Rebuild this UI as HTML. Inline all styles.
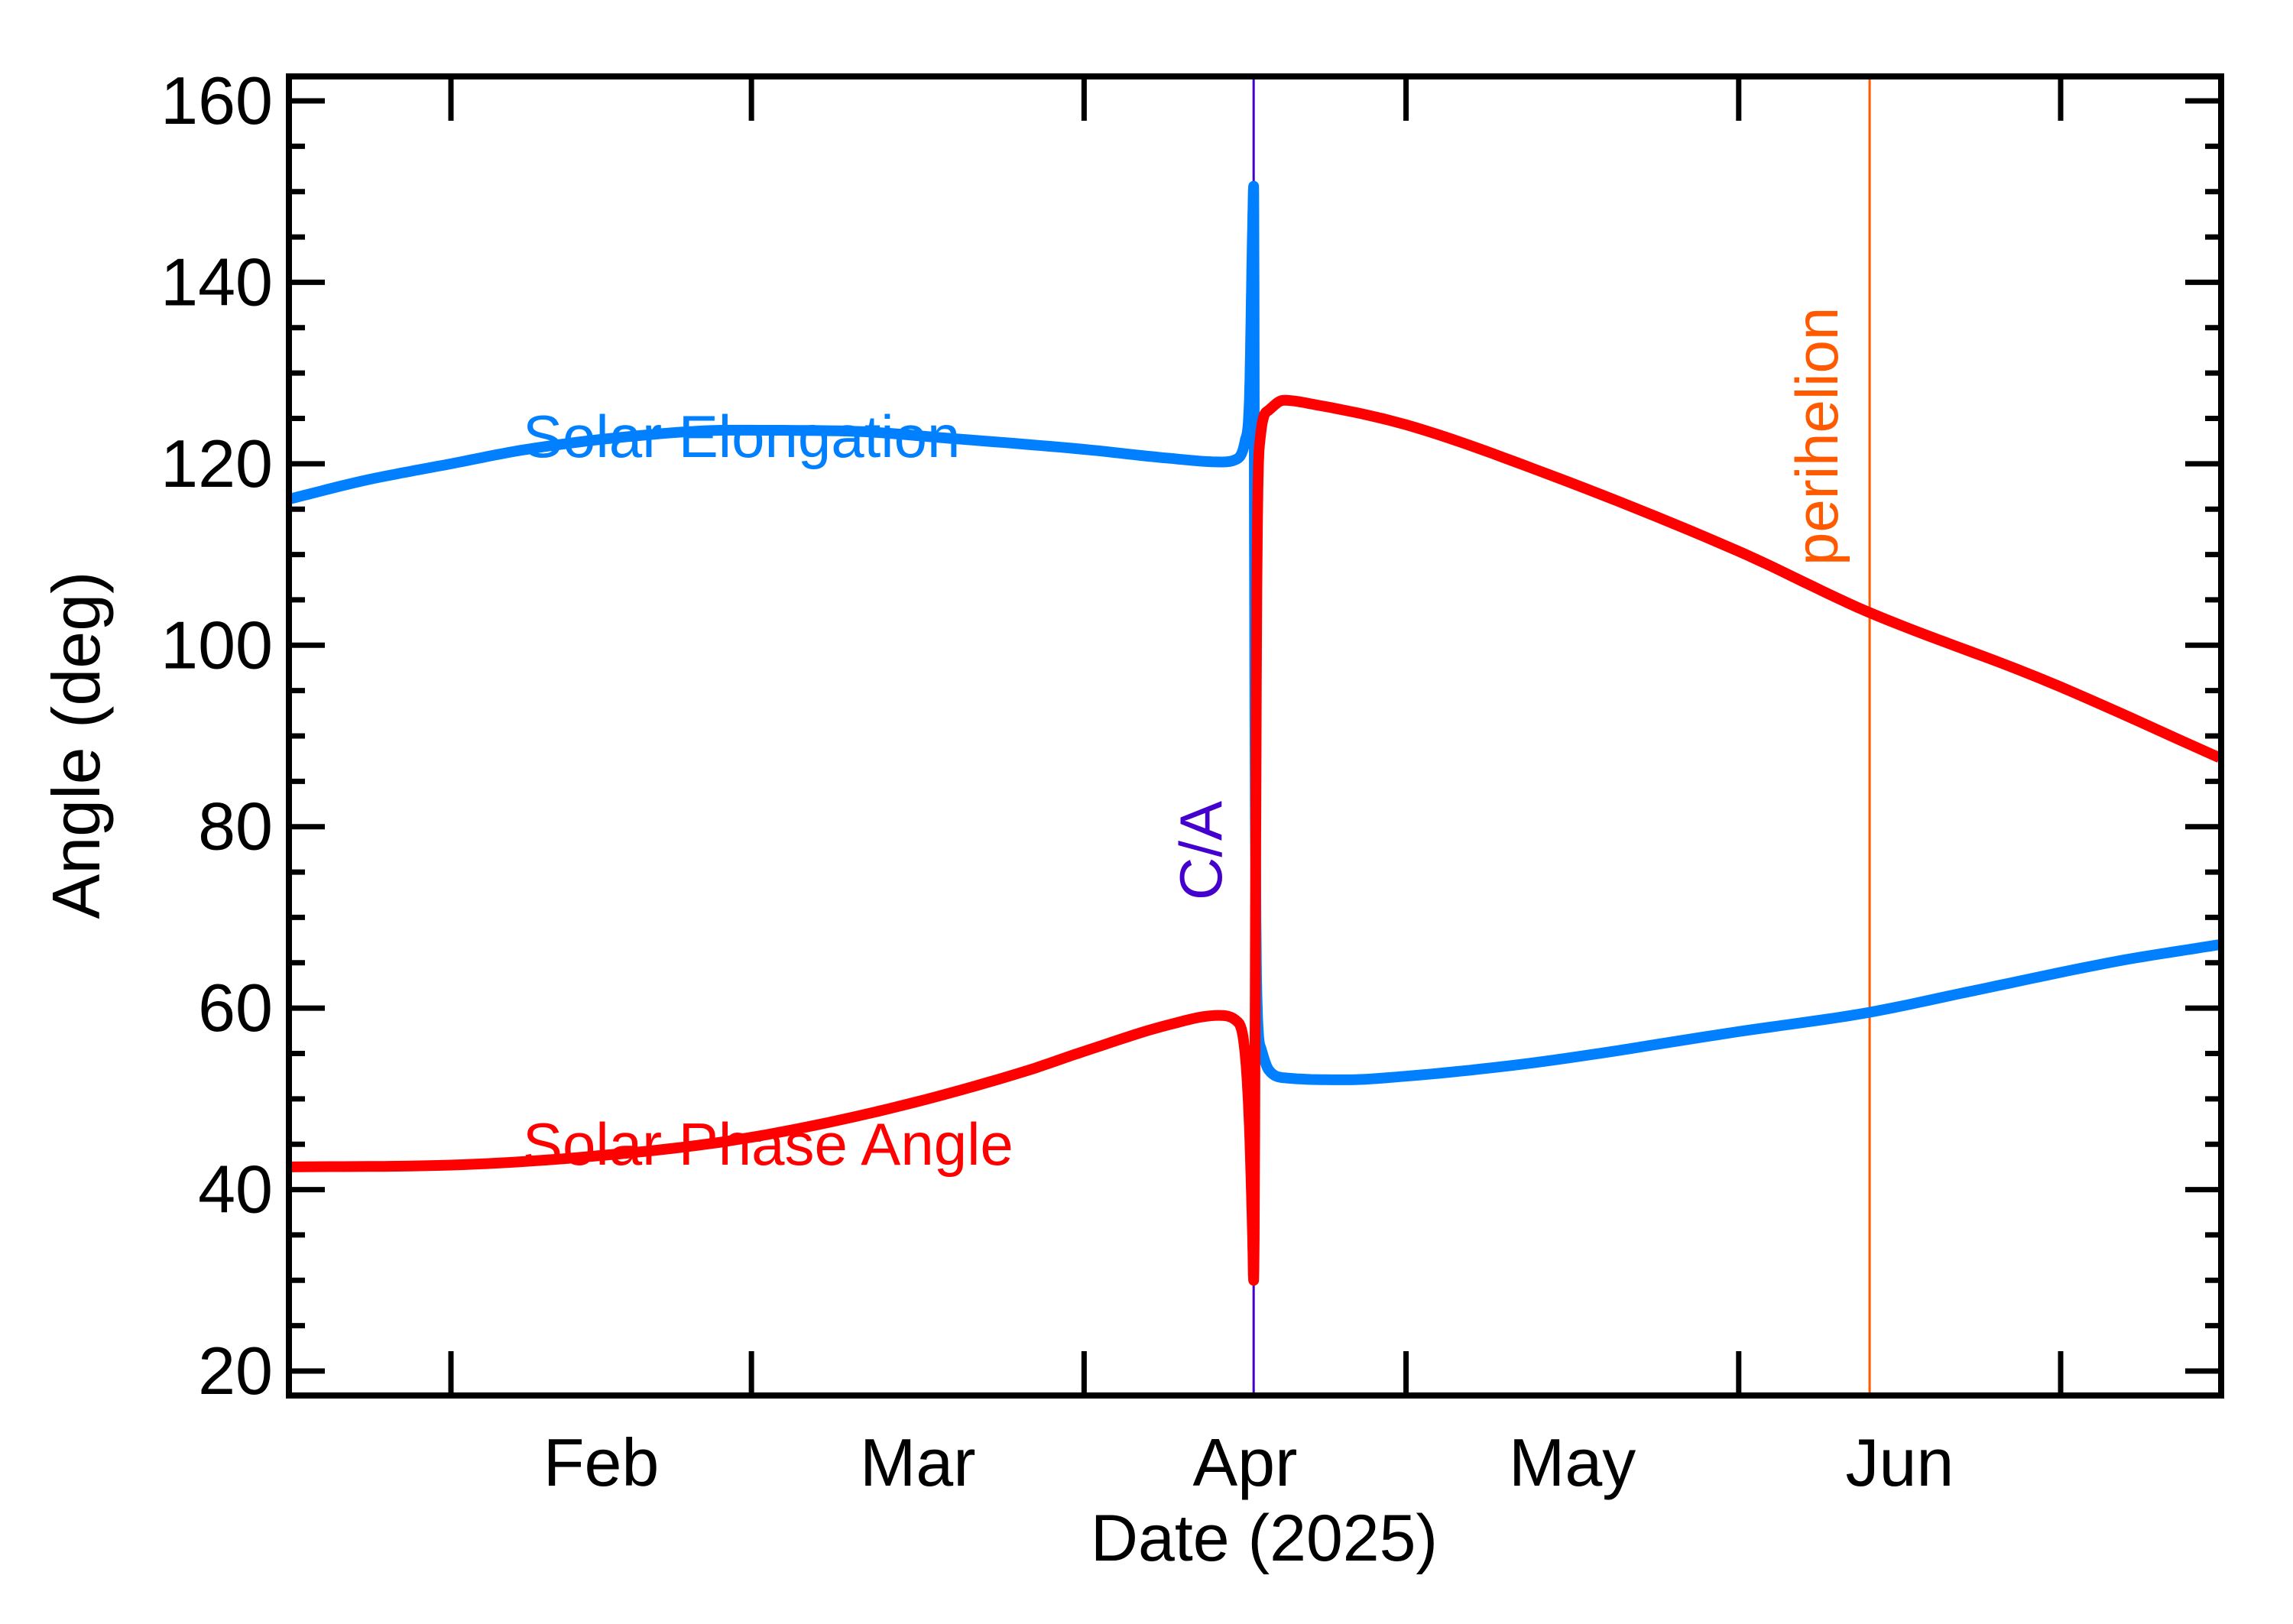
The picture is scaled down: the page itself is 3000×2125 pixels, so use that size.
<!DOCTYPE html>
<html><head><meta charset="utf-8"><style>
body{margin:0;background:#fff}
svg{display:block;font-family:"Liberation Sans",Arial,sans-serif}
</style></head><body>
<svg id="chart" width="3000" height="2125" viewBox="0 0 3000 2125" xmlns="http://www.w3.org/2000/svg">
<defs><clipPath id="plotclip"><rect x="378" y="100" width="2528" height="1726"/></clipPath></defs>
<rect x="0" y="0" width="3000" height="2125" fill="#fff"/>
<g id="marks" clip-path="url(#plotclip)"></g>
<g id="axes"></g>
<text x="1654" y="2042" font-size="86" text-anchor="middle">Date (2025)</text>
<text transform="translate(130,975) rotate(-90)" font-size="88" text-anchor="middle">Angle (deg)</text>
<text x="684" y="598" font-size="78" fill="#0080ff">Solar Elongation</text>
<text x="684" y="1524" font-size="78" fill="#ff0000">Solar Phase Angle</text>
</svg>
<script>
// day offsets relative to Feb 1, 2025
const elongDays = [-15.1,-7.9,0,7.1,16.6,26.1,37,46.5,58.9,67,71.7,73.2,74.0,74.4,74.7,74.8,74.9,75.1,75.5,76.2,77.9,83.3,89,101,119.9,132,141.8,155.4,164.8];
const elongVals = [116.1,118.2,120.0,121.6,123.0,123.7,123.6,122.8,121.6,120.6,120.2,120.5,122.5,127,146,150.6,98.5,61.5,55.5,53.2,52.3,52.1,52.5,54.0,57.4,59.5,61.9,65.2,67.0];
const phaseDays = [-15.1,0,12.5,26.1,39.7,53.4,58.9,67,71.5,73.2,74.0,74.4,74.7,74.8,75.1,75.4,76.2,77.6,80.6,89,101,119.9,132,148.6,164.8];
const phaseVals = [42.5,42.7,43.6,45.4,48.6,53.0,55.2,58.2,59.2,58.6,55,47,35,30,106.6,122.7,125.9,127.0,126.5,124.3,119.4,110.4,103.7,96.1,87.6];
const yTicks = [20,40,60,80,100,120,140,160];
const monthDays = [0,28,59,89,120,150];
const monthLabels = ["Feb","Mar","Apr","May","Jun"];
const labelDays = [14,43.5,74,104.5,135];
const caDay = 74.8;
const periDay = 132.2;

const NS="http://www.w3.org/2000/svg";
const X0=378,X1=2906,Y0=100,Y1=1826;
const xs=d=>590+d*14.04;
const ys=v=>1794-(v-20)*(1662/140);
const marks=document.getElementById('marks'), axes=document.getElementById('axes'), svg=document.getElementById('chart');
function mk(tag,attrs,parent){const e=document.createElementNS(NS,tag);for(const k in attrs)e.setAttribute(k,attrs[k]);parent.appendChild(e);return e;}
// monotone cubic interpolation for smooth curves
function smooth(xa,ya){
  const n=xa.length,d=[],m=[];
  for(let i=0;i<n-1;i++)d.push((ya[i+1]-ya[i])/(xa[i+1]-xa[i]));
  m[0]=d[0];m[n-1]=d[n-2];
  for(let i=1;i<n-1;i++){m[i]=(d[i-1]*d[i]<=0)?0:(d[i-1]+d[i])/2;}
  for(let i=0;i<n-1;i++){if(d[i]===0){m[i]=0;m[i+1]=0;continue;}const a=m[i]/d[i],b=m[i+1]/d[i],s=a*a+b*b;if(s>9){const t=3/Math.sqrt(s);m[i]=t*a*d[i];m[i+1]=t*b*d[i];}}
  const pts=[];
  for(let i=0;i<n-1;i++){const h=xa[i+1]-xa[i];const steps=12;
    for(let k=0;k<steps;k++){const t=k/steps,t2=t*t,t3=t2*t;
      const y=(2*t3-3*t2+1)*ya[i]+(t3-2*t2+t)*h*m[i]+(-2*t3+3*t2)*ya[i+1]+(t3-t2)*h*m[i+1];
      pts.push(xs(xa[i]+t*h).toFixed(1)+','+ys(y).toFixed(1));}}
  pts.push(xs(xa[n-1])+','+ys(ya[n-1]));
  return pts.join(' ');
}

let l=mk('line',{x1:xs(caDay),x2:xs(caDay),y1:Y0,y2:Y1,stroke:'#4400cc','stroke-width':3},marks);


l=mk('line',{x1:xs(periDay),x2:xs(periDay),y1:Y0,y2:Y1,stroke:'#ff5a00','stroke-width':3},marks);



let p=mk('polyline',{points:smooth(elongDays,elongVals),fill:'none',stroke:'#0080ff','stroke-width':14,'stroke-linejoin':'round'},marks);


p=mk('polyline',{points:smooth(phaseDays,phaseVals),fill:'none',stroke:'#ff0000','stroke-width':14,'stroke-linejoin':'round'},marks);



let t=mk('text',{transform:`translate(${xs(caDay)-42},1178) rotate(-90)`,'font-size':78,fill:'#4400cc'},svg);
t.textContent='C/A';


t=mk('text',{transform:`translate(${xs(periDay)-42},740) rotate(-90)`,'font-size':78,fill:'#ff5a00'},svg);
t.textContent='perihelion';



let f=mk('rect',{x:X0,y:Y0,width:X1-X0,height:Y1-Y0,fill:'none',stroke:'#000','stroke-width':8},axes);


for(let v=20;v<=160;v+=5){
  const major=v%20===0, len=major?47:21, y=ys(v);
  let a=mk('line',{x1:X0,x2:X0+len,y1:y,y2:y,stroke:'#000','stroke-width':7},axes);
  
  
  a=mk('line',{x1:X1,x2:X1-len,y1:y,y2:y,stroke:'#000','stroke-width':7},axes);
  
  
}
yTicks.forEach(v=>{
  const e=mk('text',{x:357,y:ys(v)+30,'font-size':88,'text-anchor':'end'},axes);
  e.textContent=v;
  
  
});
monthDays.forEach(d=>{
  const x=xs(d);
  let a=mk('line',{x1:x,x2:x,y1:Y1,y2:Y1-58,stroke:'#000','stroke-width':7},axes);
  
  
  a=mk('line',{x1:x,x2:x,y1:Y0,y2:Y0+58,stroke:'#000','stroke-width':7},axes);
  
  
});
monthLabels.forEach((m,i)=>{
  const e=mk('text',{x:xs(labelDays[i]),y:1944,'font-size':88,'text-anchor':'middle'},axes);
  e.textContent=m;
  
  
});
</script>
</body></html>
